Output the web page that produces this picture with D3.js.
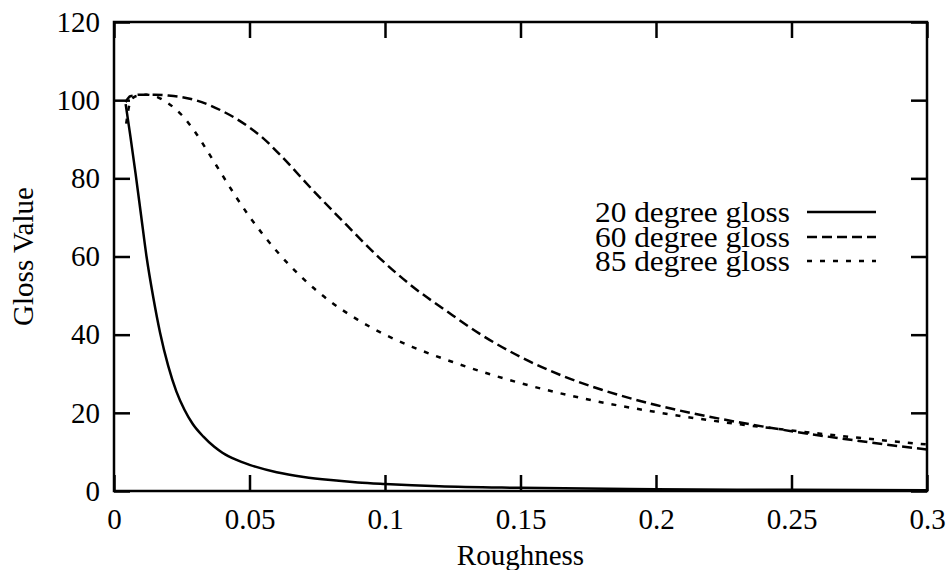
<!DOCTYPE html>
<html>
<head>
<meta charset="utf-8">
<script src="https://cdn.jsdelivr.net/npm/d3@7"></script>
<style>
  html, body { margin: 0; padding: 0; background: #fff; }
  svg { display: block; }
  text { font-family: "Liberation Serif", "DejaVu Serif", serif; fill: #000; }
</style>
</head>
<body>
<svg id="chart" width="949" height="570"></svg>
<script>
// ---- Data ----
const xTicks = [0, 0.05, 0.1, 0.15, 0.2, 0.25, 0.3];
const xTickLabels = ["0", "0.05", "0.1", "0.15", "0.2", "0.25", "0.3"];
const yTicks = [0, 20, 40, 60, 80, 100, 120];
const yTickLabels = ["0", "20", "40", "60", "80", "100", "120"];
const xLabel = "Roughness";
const yLabel = "Gloss Value";
const seriesNames = ["20 degree gloss", "60 degree gloss", "85 degree gloss"];

const gloss20 = [
  [0.0043, 99], [0.006, 91], [0.008, 81], [0.010, 70.5], [0.012, 60],
  [0.0145, 49.5], [0.017, 40.5], [0.020, 32], [0.023, 25.5], [0.026, 20.8],
  [0.029, 17.2], [0.033, 13.9], [0.037, 11.3], [0.040, 9.8], [0.045, 8.0],
  [0.050, 6.7], [0.060, 4.8], [0.070, 3.6], [0.080, 2.8], [0.090, 2.2],
  [0.100, 1.8], [0.120, 1.2], [0.150, 0.8], [0.200, 0.45], [0.250, 0.3], [0.300, 0.2]
];
const gloss60 = [
  [0.0043, 99.5], [0.006, 101.0], [0.010, 101.4], [0.015, 101.4], [0.020, 101.2],
  [0.025, 100.8], [0.030, 100.0], [0.035, 98.8], [0.040, 97.2], [0.045, 95.3],
  [0.050, 93.0], [0.055, 90.3], [0.0613, 86.0], [0.0736, 76.8], [0.0859, 68.0],
  [0.098, 59.6], [0.110, 52.4], [0.1228, 46.0], [0.135, 40.2], [0.150, 34.3],
  [0.165, 29.6], [0.180, 25.9], [0.200, 22.0], [0.225, 18.3], [0.250, 15.3],
  [0.275, 12.8], [0.300, 10.6]
];
const gloss85 = [
  [0.0045, 94], [0.006, 99.5], [0.008, 101], [0.012, 101.4], [0.016, 100.8],
  [0.020, 99.2], [0.025, 96.2], [0.030, 91.8], [0.035, 86.4], [0.040, 80.8],
  [0.045, 75.3], [0.050, 70.2], [0.055, 65.6], [0.060, 61.4], [0.065, 57.6],
  [0.070, 54.2], [0.080, 48.4], [0.090, 43.8], [0.100, 40.0], [0.110, 36.9],
  [0.125, 33.0], [0.150, 27.6], [0.175, 23.4], [0.200, 20.2], [0.225, 17.6],
  [0.250, 15.5], [0.275, 13.6], [0.300, 11.9]
];

// ---- Layout ----
const svg = d3.select("#chart");
const mLeft = 114, mRight = 927, mTop = 22, mBottom = 491;
const fontSize = 29;

const x = d3.scaleLinear().domain([0, 0.3]).range([mLeft, mRight]);
const y = d3.scaleLinear().domain([0, 120]).range([mBottom, mTop]);

const tickLen = 16;
const sw = 2.5;

const axB = d3.axisBottom(x).tickValues(xTicks).tickSize(-tickLen).tickFormat((d, i) => xTickLabels[i]).tickPadding(17);
const axT = d3.axisTop(x).tickValues(xTicks).tickSize(-tickLen).tickFormat("");
const axL = d3.axisLeft(y).tickValues(yTicks).tickSize(-tickLen).tickFormat((d, i) => yTickLabels[i]).tickPadding(14);
const axR = d3.axisRight(y).tickValues(yTicks).tickSize(-tickLen).tickFormat("");

function style(g) {
  g.select(".domain").remove();
  g.selectAll(".tick line").attr("stroke", "#000").attr("stroke-width", sw);
  g.selectAll(".tick text").attr("font-size", fontSize).attr("font-family", "Liberation Serif").attr("fill", "#000");
}
svg.append("g").attr("transform", `translate(0,${mBottom})`).call(axB).call(style);
svg.append("g").attr("transform", `translate(0,${mTop})`).call(axT).call(style);
svg.append("g").attr("transform", `translate(${mLeft},0)`).call(axL).call(style);
svg.append("g").attr("transform", `translate(${mRight},0)`).call(axR).call(style);

// frame
svg.append("rect").attr("x", mLeft).attr("y", mTop).attr("width", mRight - mLeft).attr("height", mBottom - mTop)
  .attr("fill", "none").attr("stroke", "#000").attr("stroke-width", sw);

// curves
const line = d3.line().x(d => x(d[0])).y(d => y(d[1])).curve(d3.curveMonotoneX);
const dashes = [null, "10,5", "5,8"];
const data = [gloss20, gloss60, gloss85];
data.forEach((s, i) => {
  svg.append("path").datum(s).attr("d", line).attr("fill", "none")
    .attr("stroke", "#000").attr("stroke-width", sw)
    .attr("stroke-dasharray", dashes[i]);
});

// legend
const legY = [212, 237, 261];
seriesNames.forEach((n, i) => {
  svg.append("text").attr("x", 790).attr("y", legY[i]).attr("dy", "0.34em")
    .attr("text-anchor", "end").attr("font-size", fontSize)
    .attr("textLength", 195).attr("lengthAdjust", "spacingAndGlyphs").text(n);
  svg.append("line").attr("x1", 807).attr("x2", 876).attr("y1", legY[i]).attr("y2", legY[i])
    .attr("stroke", "#000").attr("stroke-width", sw).attr("stroke-dasharray", dashes[i]);
});

// axis labels
svg.append("text").attr("x", (mLeft + mRight) / 2).attr("y", 565).attr("text-anchor", "middle")
  .attr("font-size", fontSize).text(xLabel);
svg.append("text").attr("transform", `translate(33,${(mTop + mBottom) / 2}) rotate(-90)`)
  .attr("text-anchor", "middle").attr("font-size", fontSize).text(yLabel);
</script>
</body>
</html>
